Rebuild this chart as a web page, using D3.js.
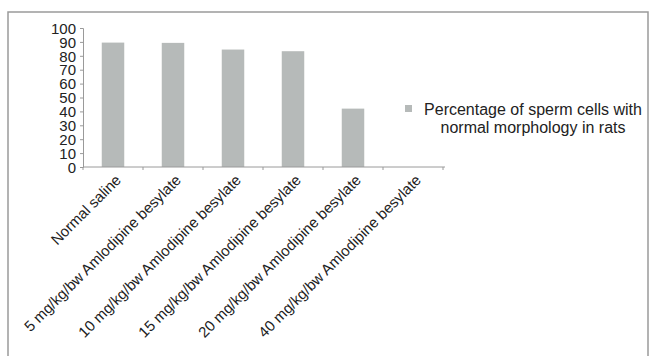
<!DOCTYPE html>
<html>
<head>
<meta charset="utf-8">
<script src="https://cdn.jsdelivr.net/npm/d3@7"></script>
<style>
  body { margin: 0; background: #fff; }
  text { font-family: "Liberation Sans", Arial, sans-serif; fill: #222; }
</style>
</head>
<body>
<div class="chart"></div>
<script>
// svg size = window size
let svg_width = 653;
let svg_height = 356;

// data
let categories = [
    'Normal saline',
    '5 mg/kg/bw Amlodipine besylate',
    '10 mg/kg/bw Amlodipine besylate',
    '15 mg/kg/bw Amlodipine besylate',
    '20 mg/kg/bw Amlodipine besylate',
    '40 mg/kg/bw Amlodipine besylate'
];
let normal_pct = [89.5, 89.3, 84.5, 83.3, 42, 0];
let y_ticks = [0, 10, 20, 30, 40, 50, 60, 70, 80, 90, 100];
let legend_lines = ['Percentage of sperm cells with', 'normal morphology in rats'];

// plot area
let plot_left = 83;
let plot_right = 443;
let plot_top = 28;
let plot_bottom = 167;

let bar_color = '#b6bab9';
let axis_color = '#9a9a9a';

// scales
let x_scale = d3.scaleBand()
                .domain( categories )
                .range( [ plot_left, plot_right ] )
                .paddingInner( 0.625 )
                .paddingOuter( 0.3125 );

let y_scale = d3.scaleLinear()
                .domain( [ 0, 100 ] )
                .range( [ plot_bottom, plot_top ] );

let svg = d3.select('.chart')
            .append('svg')
            .attr('width', svg_width)
            .attr('height', svg_height);

// outer frame (runs past the bottom of the picture)
svg.append('rect')
    .attr('x', 8)
    .attr('y', 12)
    .attr('width', 640)
    .attr('height', 360)
    .attr('fill', 'none')
    .attr('stroke', axis_color)
    .attr('stroke-width', 1.5);

// bars
svg.selectAll('rect.bar')
    .data(normal_pct)
    .enter()
    .append('rect')
    .attr('class', 'bar')
    .attr('fill', bar_color)
    .attr('x', function( d, i ){ return x_scale( categories[i] ); })
    .attr('y', function( d ){ return y_scale( d ); })
    .attr('width', x_scale.bandwidth())
    .attr('height', function( d ){ return plot_bottom - y_scale( d ); });

// y axis
let y_axis = svg.append('g')
    .attr('transform', 'translate(' + plot_left + ',0)')
    .call(d3.axisLeft(y_scale).tickValues(y_ticks).tickSize(3).tickPadding(4));
y_axis.selectAll('text').attr('font-size', 15).attr('dy', '0.35em').style('fill', '#222');
y_axis.select('.domain').attr('stroke', axis_color);
y_axis.selectAll('.tick line').attr('stroke', axis_color);

// x axis: ticks at category boundaries, labels rotated
let step = x_scale.step();
let x_axis = svg.append('g');
x_axis.append('line')
    .attr('x1', plot_left).attr('x2', plot_right + 2)
    .attr('y1', plot_bottom).attr('y2', plot_bottom)
    .attr('stroke', axis_color);
x_axis.selectAll('line.tick')
    .data(d3.range(categories.length + 1))
    .enter()
    .append('line')
    .attr('class', 'tick')
    .attr('x1', function( d ){ return plot_left + d * step; })
    .attr('x2', function( d ){ return plot_left + d * step; })
    .attr('y1', plot_bottom)
    .attr('y2', plot_bottom + 3)
    .attr('stroke', axis_color);
x_axis.selectAll('text')
    .data(categories)
    .enter()
    .append('text')
    .text(function( d ){ return d; })
    .attr('font-size', 15)
    .attr('text-anchor', 'end')
    .attr('transform', function( d ){
        let x = x_scale( d ) + x_scale.bandwidth() / 2 + 9;
        return 'translate(' + x + ',' + (plot_bottom + 14) + ') rotate(-45)';
    });

// legend
let legend = svg.append('g');
legend.append('rect')
    .attr('x', 405)
    .attr('y', 105)
    .attr('width', 7)
    .attr('height', 7)
    .attr('fill', bar_color);
legend.selectAll('text')
    .data(legend_lines)
    .enter()
    .append('text')
    .text(function( d ){ return d; })
    .attr('x', 533)
    .attr('y', function( d, i ){ return 115 + i * 18; })
    .attr('font-size', 16)
    .attr('text-anchor', 'middle');
</script>
</body>
</html>
